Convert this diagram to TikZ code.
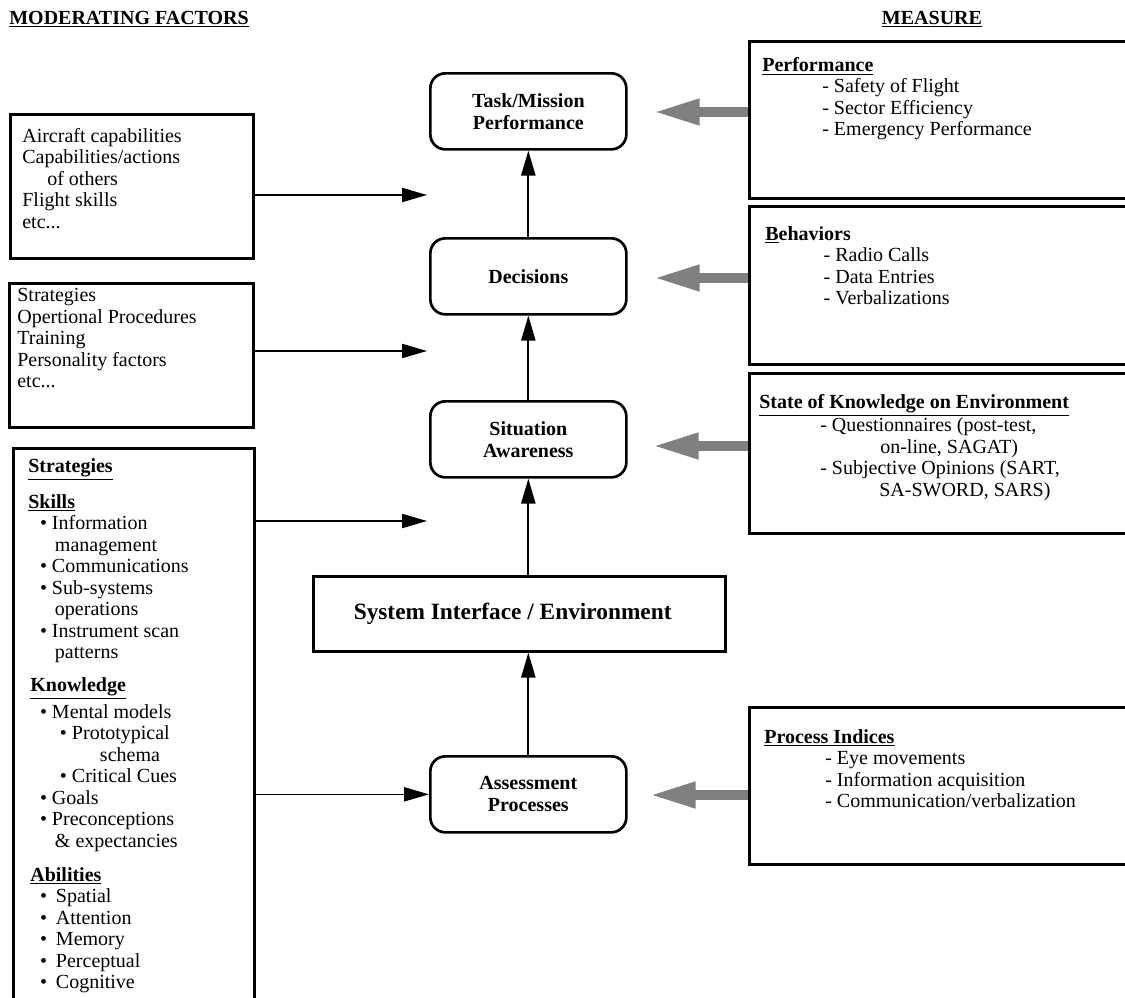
\documentclass[tikz,border=0pt]{standalone}
\usepackage{fontspec}
\setmainfont{Liberation Serif}
\usetikzlibrary{arrows.meta,positioning,calc}

\begin{document}
\begin{tikzpicture}[
    x=0.6pt, y=-0.6pt,
    every node/.style={font=\fontsize{12}{12.9}\selectfont, inner sep=0pt},
    stage/.style={draw, line width=1.6pt, rounded corners=9pt, anchor=north west,
      minimum width=117.6pt, minimum height=45.6pt, align=center,
      font=\fontsize{12}{13.2}\selectfont\bfseries},
    factorbox/.style={draw, line width=1.6pt, anchor=north west},
    measurebox/.style={draw, line width=1.6pt, anchor=north west, minimum width=240pt},
    boxtext/.style={anchor=north west, align=left},
    heading/.style={font=\fontsize{12}{12.9}\selectfont\bfseries},
    flow/.style={-{Triangle[length=15pt,width=8.5pt]}, line width=0.9pt},
    upflow/.style={-{Triangle[length=15pt,width=8.5pt]}, line width=1.2pt},
    measurearrow/.style={-{Triangle[length=28pt,width=14.4pt]}, line width=6pt, draw=black!50}
  ]
  \useasboundingbox (0,0) rectangle (1125,998);
  \clip (0,0) rectangle (1125,998);

  % column titles
  \node[heading, anchor=base west] (mftitle) at (9,24) {\underline{MODERATING FACTORS}};
  \node[heading, anchor=base] (meastitle) at (932,24) {\underline{MEASURE}};

  % central chain
  \node[stage] (task) at (429,72) {Task/Mission\\Performance};
  \node[stage] (dec) at (429,237) {Decisions};
  \node[stage] (sa) at (429,400) {Situation\\Awareness};
  \node[draw, line width=1.6pt, anchor=north west, minimum width=247.2pt, minimum height=45pt,
    font=\fontsize{14}{16}\selectfont\bfseries] (sys) at (312,575) {\hspace*{-8pt}System Interface / Environment};
  \node[stage] (assess) at (429,755) {Assessment\\Processes};

  \draw[upflow] (dec.north) -- (task.south);
  \draw[upflow] (sa.north) -- (dec.south);
  \draw[upflow] (sa.south |- sys.north) -- (sa.south);
  \draw[upflow] (assess.north) -- (assess.north |- sys.south);

  % moderating factors
  \node[factorbox, minimum width=145.8pt, minimum height=86.4pt] (mf1) at (9,113) {};
  \node[boxtext] (mf1txt) at (22,128) {Aircraft capabilities\\Capabilities/actions\\
    \hspace*{15pt}of others\\Flight skills\\etc...};
  \node[factorbox, minimum width=146.4pt, minimum height=86.4pt] (mf2) at (8,282) {};
  \node[boxtext] (mf2txt) at (17,288) {Strategies\\Opertional Procedures\\Training\\
    Personality factors\\etc...};
  \node[factorbox, minimum width=144.6pt, minimum height=360pt] (mf3) at (12,447) {};
  \node[boxtext] (mf3txt) at (28,458) {\underline{\textbf{Strategies}}\\[7.5pt]
    \underline{\textbf{Skills}}\\
    \hspace*{7pt}\textbullet\ Information\\
    \hspace*{16pt}management\\
    \hspace*{7pt}\textbullet\ Communications\\
    \hspace*{7pt}\textbullet\ Sub-systems\\
    \hspace*{16pt}operations\\
    \hspace*{7pt}\textbullet\ Instrument scan\\
    \hspace*{16pt}patterns\\[6.9pt]
    \hspace*{1.2pt}\underline{\textbf{Knowledge}}\\[2pt]
    \hspace*{7pt}\textbullet\ Mental models\\
    \hspace*{19pt}\textbullet\ Prototypical\\
    \hspace*{43pt}schema\\
    \hspace*{19pt}\textbullet\ Critical Cues\\
    \hspace*{7pt}\textbullet\ Goals\\
    \hspace*{7pt}\textbullet\ Preconceptions\\
    \hspace*{16pt}\& expectancies\\[7.5pt]
    \hspace*{1.2pt}\underline{\textbf{Abilities}}\\
    \hspace*{7pt}\textbullet\hspace{5.4pt}Spatial\\
    \hspace*{7pt}\textbullet\hspace{5.4pt}Attention\\
    \hspace*{7pt}\textbullet\hspace{5.4pt}Memory\\
    \hspace*{7pt}\textbullet\hspace{5.4pt}Perceptual\\
    \hspace*{7pt}\textbullet\hspace{5.4pt}Cognitive};

  \coordinate (mf1in) at (427,195);
  \coordinate (mf2in) at (427,351);
  \coordinate (mf3in) at (427,521);
  \draw[flow] (mf1in -| mf1.east) -- (mf1in);
  \draw[flow] (mf2in -| mf2.east) -- (mf2in);
  \draw[flow] (mf3in -| mf3.east) -- (mf3in);
  \draw[flow] (assess.west -| mf3.east) -- (assess.west);

  % measures
  \node[measurebox, minimum height=94.2pt] (perf) at (748,40) {};
  \node[boxtext] (perftxt) at (762,57) {\underline{\textbf{Performance}}\\
    \hspace*{36pt}- Safety of Flight\\
    \hspace*{36pt}- Sector Efficiency\\
    \hspace*{36pt}- Emergency Performance};
  \node[measurebox, minimum height=94.8pt] (beh) at (748,205) {};
  \node[boxtext] (behtxt) at (765,226) {\textbf{\underline{B}ehaviors}\\
    \hspace*{35pt}- Radio Calls\\
    \hspace*{35pt}- Data Entries\\
    \hspace*{35pt}- Verbalizations};
  \node[measurebox, minimum height=96pt] (sok) at (748,372) {};
  \node[boxtext] (soktxt) at (759,394) {\underline{\textbf{State of Knowledge on Environment}}\\
    \hspace*{36.6pt}- Questionnaires (post-test,\\
    \hspace*{72.6pt}on-line, SAGAT)\\
    \hspace*{36.6pt}- Subjective Opinions (SART,\\
    \hspace*{72pt}SA-SWORD, SARS)};
  \node[measurebox, minimum height=94.2pt] (proc) at (748,706) {};
  \node[boxtext] (proctxt) at (764,729) {\underline{\textbf{Process Indices}}\\
    \hspace*{36.6pt}- Eye movements\\
    \hspace*{36.6pt}- Information acquisition\\
    \hspace*{36.6pt}- Communication/verbalization};

  \coordinate (perfout) at (653,112);
  \coordinate (behout) at (653,278);
  \coordinate (sokout) at (652,446);
  \coordinate (procout) at (649,795);
  \draw[measurearrow] (perfout -| perf.west) -- (perfout);
  \draw[measurearrow] (behout -| beh.west) -- (behout);
  \draw[measurearrow] (sokout -| sok.west) -- (sokout);
  \draw[measurearrow] (procout -| proc.west) -- (procout);
\end{tikzpicture}
\end{document}
